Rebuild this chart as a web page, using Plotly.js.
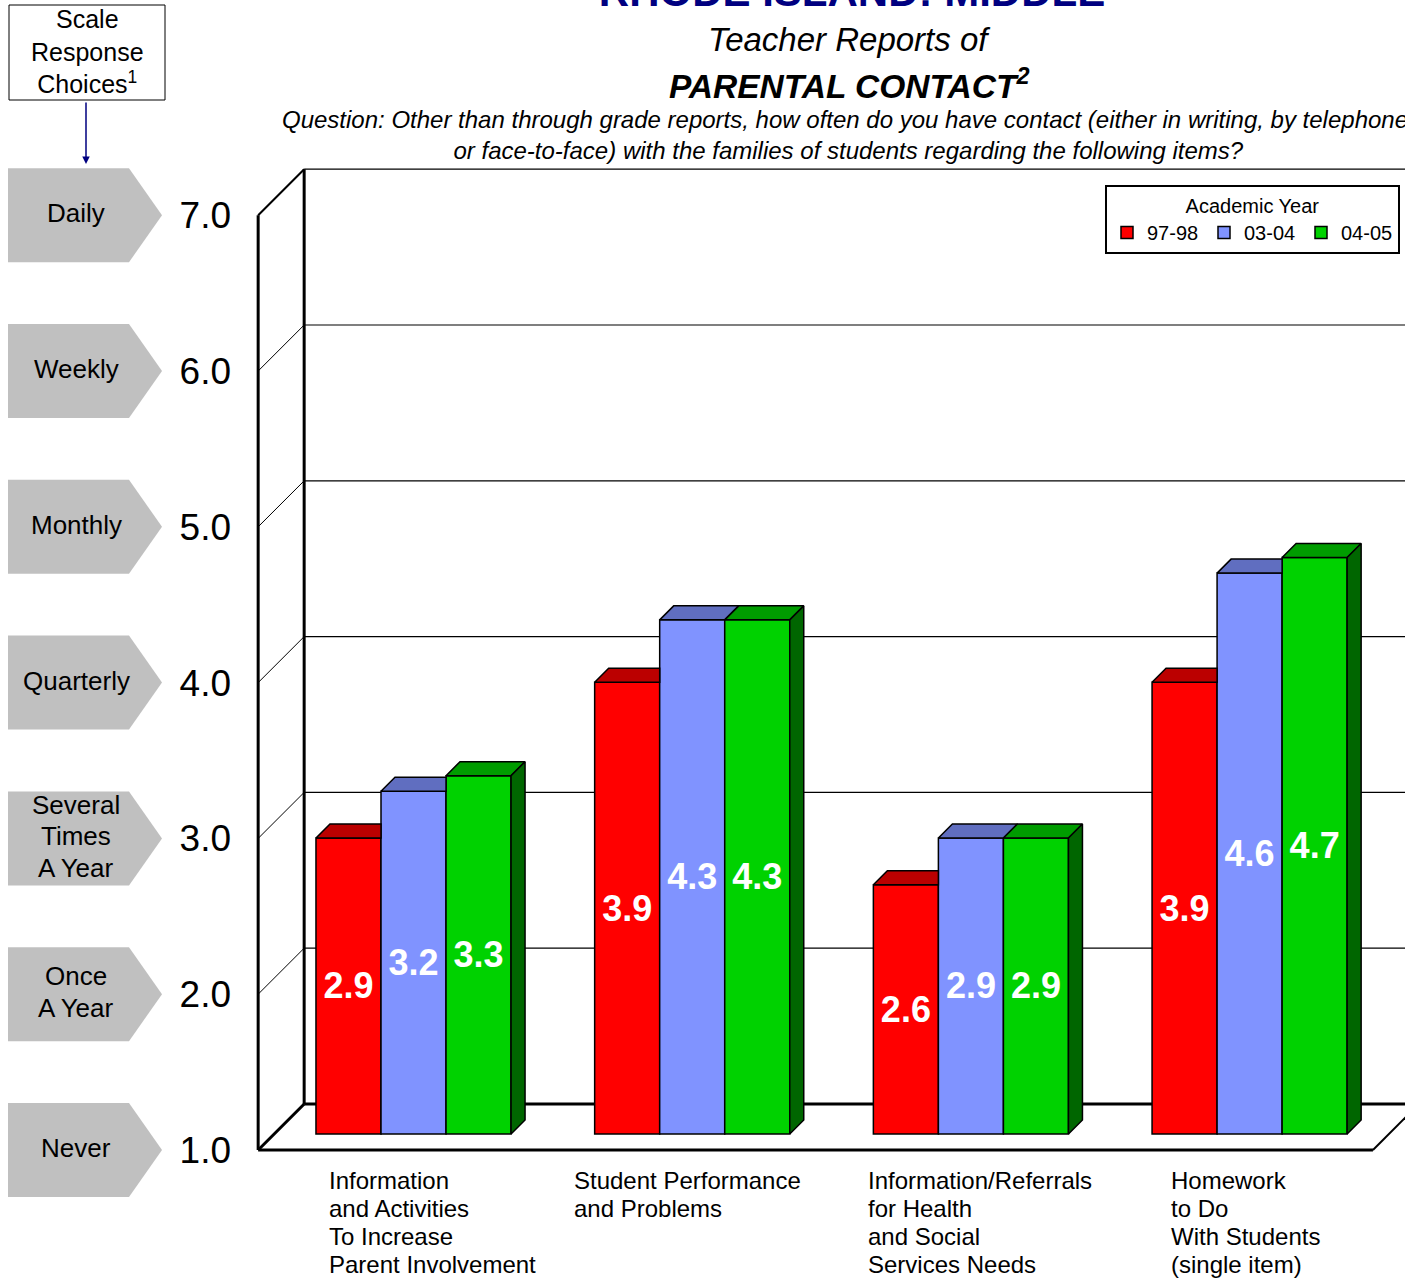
<!DOCTYPE html>
<html><head><meta charset="utf-8">
<script src="https://cdn.plot.ly/plotly-3.0.1.min.js"></script>
<style>html,body{margin:0;padding:0;background:#fff}#chart{width:1405px;height:1278px}</style>
</head><body><div id="chart"></div>
<script>
// ---------- data ----------
const categories = [
  "Information<br>and Activities<br>To Increase<br>Parent Involvement",
  "Student Performance<br>and Problems",
  "Information/Referrals<br>for Health<br>and Social<br>Services Needs",
  "Homework<br>to Do<br>With Students<br>(single item)"
];
const seriesNames = ["97-98", "03-04", "04-05"];
const values9798 = [2.9, 3.9, 2.6, 3.9];
const values0304 = [3.2, 4.3, 2.9, 4.6];
const values0405 = [3.3, 4.3, 2.9, 4.7];
const tickValues = [1, 2, 3, 4, 5, 6, 7];
const scaleLabels = ["Never", "Once<br>A Year", "Several<br>Times<br>A Year", "Quarterly", "Monthly", "Weekly", "Daily"];
const titleText = "RHODE ISLAND: MIDDLE";
const subtitle1 = "Teacher Reports of";
const subtitle2 = "PARENTAL CONTACT<sup>2</sup>";
const questionText = "Question: Other than through grade reports, how often do you have contact (either in writing, by telephone,<br>or face-to-face) with the families of students regarding the following items?";
const scaleBoxText = "Scale<br>Response<br>Choices<sup>1</sup>";
const legendTitle = "Academic Year";

// ---------- layout constants ----------
const W = 1405, H = 1278;
const M = {l: 250, r: 0, t: 160, b: 118};
const plotW = W - M.l - M.r, plotH = H - M.t - M.b;
const xRange = [-0.5867, 3.5576];
const yRange = [0.8331, 7.2516];
const kx = (xRange[1] - xRange[0]) / plotW;
const ky = (yRange[1] - yRange[0]) / plotH;
const FRONT = -16, BACK = 30, BAR_DEPTH = 14;   // depth offsets in px relative to bar plane
const y2Range = [yRange[0] - FRONT * ky, yRange[1] - FRONT * ky];
const FONT = '"Liberation Sans", Arial, Helvetica, sans-serif';
const px2paperX = p => (p - M.l) / plotW;
const px2paperY = p => (M.t + plotH - p) / plotH;
const y2paper = v => (v - y2Range[0]) / (y2Range[1] - y2Range[0]);
const y2px = v => M.t + plotH * (1 - y2paper(v));
const catLabelShift = [-87, -120, -105, -81];   // left edge of label block relative to category centre (px)

const allSeries = [values9798, values0304, values0405];
const frontColors = ['#FF0000', '#8093FF', '#00D200'];
const topColors = ['#BB0000', '#606EC0', '#009C00'];
const sideColors = ['#7A0000', '#404A80', '#006600'];
const nS = allSeries.length;
const barGap = 0.3;
const bw = (1 - barGap) / nS;
const xMin = -0.5, xMax = categories.length - 0.5;
const yMin = tickValues[0], yMax = tickValues[tickValues.length - 1];

// ---------- traces ----------
const traces = [];
allSeries.forEach((vals, s) => {
  traces.push({
    type: 'bar', name: seriesNames[s],
    x: categories.map((c, i) => i),
    y: vals.map(v => v - yMin), base: yMin,
    text: vals.map(v => v.toFixed(1)),
    textposition: 'inside', insidetextanchor: 'middle', textangle: 0, constraintext: 'none',
    textfont: {family: FONT, size: 36, color: '#FFFFFF', weight: 'bold'},
    marker: {color: frontColors[s], line: {color: '#000', width: 1.5}},
    hoverinfo: 'skip'
  });
});

const dx = BAR_DEPTH * kx, dy = BAR_DEPTH * ky;
function poly(xs, ys, color) {
  traces.push({
    type: 'scatter', mode: 'lines', x: xs.concat([xs[0]]), y: ys.concat([ys[0]]),
    fill: 'toself', fillcolor: color, line: {color: '#000', width: 1.5},
    showlegend: false, hoverinfo: 'skip'
  });
}
categories.forEach((c, g) => {
  for (let s = 0; s < nS; s++) {
    const v = allSeries[s][g];
    const xl = g - (1 - barGap) / 2 + s * bw, xr = xl + bw;
    const vn = s < nS - 1 ? allSeries[s + 1][g] : null;
    if (vn === null || vn <= v) {
      poly([xl, xr, xr + dx, xl + dx], [v, v, v + dy, v + dy], topColors[s]);
    } else if (vn >= v + dy) {
      poly([xl, xr, xr, xl + dx], [v, v, v + dy, v + dy], topColors[s]);
    } else {
      const t = (vn - v) / dy;
      poly([xl, xr, xr, xr + t * dx, xr + dx, xl + dx], [v, v, vn, vn, v + dy, v + dy], topColors[s]);
    }
    if (vn === null) {
      poly([xr, xr, xr + dx, xr + dx], [yMin, v, v + dy, yMin + dy], sideColors[s]);
    } else if (vn < v) {
      poly([xr, xr, xr + dx, xr + dx], [vn, v, v + dy, Math.max(vn, yMin + dy)], sideColors[s]);
    }
  }
});

// ---------- shapes (walls) ----------
const shapes = [];
function seg(x0, y0, x1, y1, width) {
  shapes.push({type: 'line', xref: 'x', yref: 'y', x0, y0, x1, y1, layer: 'below', line: {color: '#000', width}});
}
const xF = xMin + FRONT * kx, xB = xMin + BACK * kx, xFR = xMax + FRONT * kx, xBR = xMax + BACK * kx;
tickValues.forEach((v, i) => {
  const yF = v + FRONT * ky, yB = v + BACK * ky;
  const isFloor = i === 0, isTop = i === tickValues.length - 1;
  seg(xB, yB, xBR + 1, yB, isFloor ? 3 : 1.2);
  seg(xF, yF, xB, yB, isFloor ? 3 : (isTop ? 2 : 1));
});
seg(xB, yMin + BACK * ky, xB, yMax + BACK * ky, 3);
seg(xF, yMin + FRONT * ky, xF, yMax + FRONT * ky, 3);
seg(xF, yMin + FRONT * ky, xFR, yMin + FRONT * ky, 3);
seg(xFR, yMin + FRONT * ky, xBR, yMin + BACK * ky, 2);

const annotations = [];
function lines(text, opts, firstCenterPx, lineH) {
  text.split('<br>').forEach((ln, k) => {
    annotations.push(Object.assign({yref: 'paper', y: px2paperY(firstCenterPx + k * lineH), yanchor: 'middle',
      text: ln, showarrow: false}, opts));
  });
}

// pentagon scale labels
const pX0 = px2paperX(8), pX1 = px2paperX(129), pTip = px2paperX(162);
const halfH = 47 * ky;
const scaleFont = {family: FONT, size: 26, color: '#000'};
tickValues.forEach((v, i) => {
  const yc = y2paper(v), yt = y2paper(v + halfH), yb = y2paper(v - halfH);
  shapes.push({type: 'path', xref: 'paper', yref: 'paper',
    path: `M${pX0},${yb}L${pX1},${yb}L${pTip},${yc}L${pX1},${yt}L${pX0},${yt}Z`,
    fillcolor: '#C0C0C0', line: {width: 0}, layer: 'above'});
  const n = scaleLabels[i].split('<br>').length;
  const lh = 31.5;
  lines(scaleLabels[i], {xref: 'paper', x: px2paperX(76), xanchor: 'center', font: scaleFont},
    y2px(v) - 2 - (n - 1) * lh / 2, lh);
});

// scale response box
shapes.push({type: 'rect', xref: 'paper', yref: 'paper', x0: px2paperX(9), x1: px2paperX(165),
  y0: px2paperY(100), y1: px2paperY(5), line: {color: '#000', width: 1}, fillcolor: 'rgba(0,0,0,0)'});
annotations.push({xref: 'paper', yref: 'paper', x: px2paperX(87), y: px2paperY(52), xanchor: 'center', yanchor: 'middle',
  text: scaleBoxText, showarrow: false, align: 'center', font: {family: FONT, size: 25, color: '#000'}});
annotations.push({xref: 'paper', yref: 'paper', x: px2paperX(86), y: px2paperY(164), text: '',
  showarrow: true, ax: 0, ay: -63, arrowhead: 2, arrowsize: 1, arrowwidth: 1.5, arrowcolor: '#000080'});

// subtitles
annotations.push({xref: 'paper', yref: 'paper', x: px2paperX(849), y: px2paperY(40), xanchor: 'center', yanchor: 'middle',
  text: subtitle1, showarrow: false, font: {family: FONT, size: 33, color: '#000', style: 'italic'}});
annotations.push({xref: 'paper', yref: 'paper', x: px2paperX(849), y: px2paperY(84), xanchor: 'center', yanchor: 'middle',
  text: subtitle2, showarrow: false, font: {family: FONT, size: 33.5, color: '#000', style: 'italic', weight: 'bold'}});
annotations.push({xref: 'paper', yref: 'paper', x: px2paperX(848), y: px2paperY(135), xanchor: 'center', yanchor: 'middle',
  text: questionText, showarrow: false, align: 'center', font: {family: FONT, size: 24, color: '#000', style: 'italic'}});

// category labels (left-aligned lines)
categories.forEach((c, i) => {
  lines(c, {xref: 'x', x: i, xanchor: 'left', xshift: catLabelShift[i], align: 'left',
    font: {family: FONT, size: 24, color: '#000'}}, 1180, 28);
});

const layout = {
  width: W, height: H,
  margin: M,
  paper_bgcolor: '#fff', plot_bgcolor: '#fff',
  title: {text: titleText, font: {family: FONT, size: 42, color: '#000080', weight: 'bold'},
    xref: 'container', x: 852 / W, xanchor: 'center', yref: 'container', y: 1 - 6 / H, yanchor: 'bottom'},
  barmode: 'group', bargap: barGap, bargroupgap: 0,
  showlegend: true,
  legend: {orientation: 'h', x: px2paperX(1400), xanchor: 'right', y: px2paperY(185), yanchor: 'top',
    bgcolor: '#fff', bordercolor: '#000', borderwidth: 2,
    font: {family: FONT, size: 20, color: '#000'},
    title: {text: legendTitle, side: 'top center', font: {family: FONT, size: 20, color: '#000'}},
    itemwidth: 30, entrywidth: 52, traceorder: 'normal'},
  xaxis: {range: xRange, visible: false, fixedrange: true},
  yaxis: {range: yRange, visible: false, fixedrange: true},
  yaxis2: {range: y2Range, overlaying: 'y', side: 'left', showgrid: false, zeroline: false, showline: false,
    tickvals: tickValues, ticktext: tickValues.map(v => v.toFixed(1)), ticks: '', ticklabelstandoff: 18,
    tickfont: {family: FONT, size: 37, color: '#000'}, fixedrange: true},
  shapes, annotations,
  font: {family: FONT, color: '#000'}
};
traces.push({type: 'scatter', x: [xRange[0]], y: [y2Range[0]], yaxis: 'y2', mode: 'markers', marker: {opacity: 0}, showlegend: false, hoverinfo: 'skip'});

Plotly.newPlot('chart', traces, layout, {staticPlot: true, displayModeBar: false});
</script>
</body></html>
